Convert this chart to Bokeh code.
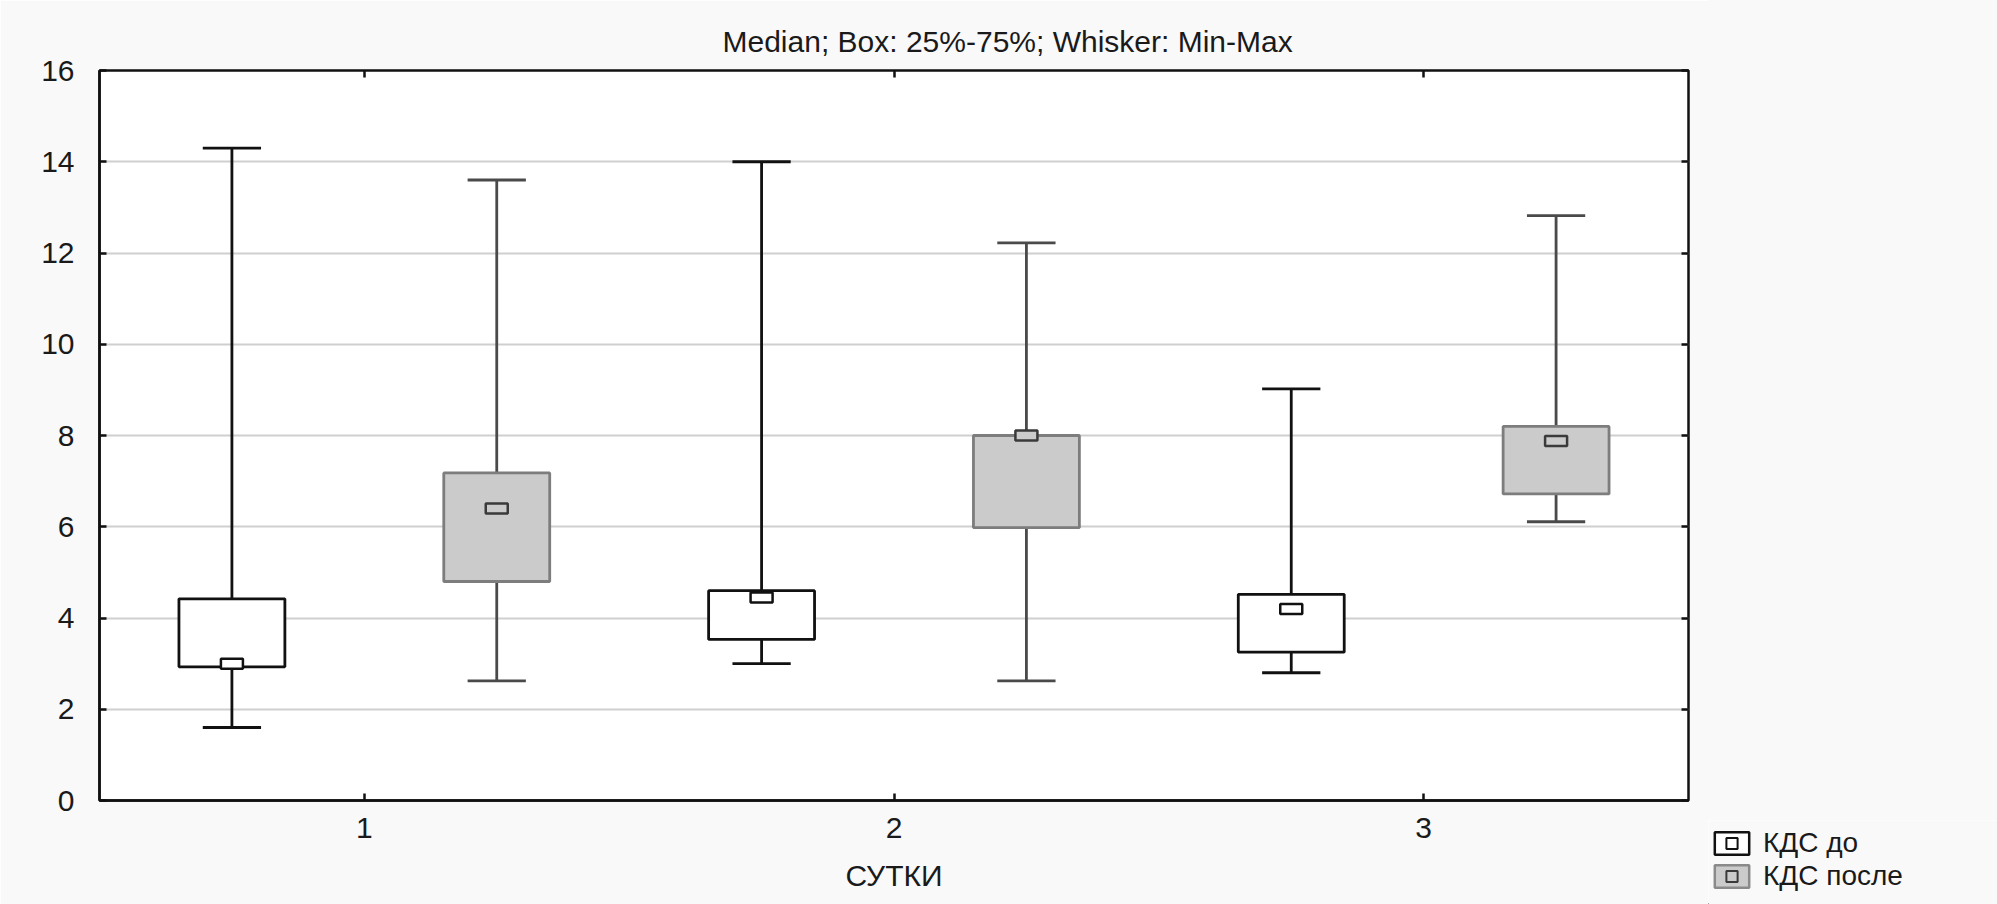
from bokeh.plotting import figure
from bokeh.models import (Range1d, FixedTicker, LinearAxis, Legend, LegendItem, Title,
                          ColumnDataSource, CustomJSTickFormatter, Spacer)
from bokeh.transform import dodge
from bokeh.layouts import row, column
from bokeh.embed import file_html
from bokeh.resources import INLINE

# ---- data ----
days = [1, 2, 3]
y_ticks = [0, 2, 4, 6, 8, 10, 12, 14, 16]

before_min = [1.6, 3.0, 2.8]
before_q1 = [2.93, 3.53, 3.25]
before_median = [3.0, 4.45, 4.2]
before_q3 = [4.42, 4.6, 4.52]
before_max = [14.3, 14.0, 9.02]

after_min = [2.62, 2.62, 6.11]
after_q1 = [4.8, 5.98, 6.72]
after_median = [6.4, 8.0, 7.88]
after_q3 = [7.18, 8.0, 8.2]
after_max = [13.6, 12.22, 12.82]

title_text = "Median; Box: 25%-75%; Whisker: Min-Max"
x_label = "СУТКИ"
legend_labels = ["КДС до", "КДС после"]

FONT = "Liberation Sans"
FS = "30px"
TXT = "#1a1a1a"
PAGE = "#f9f9f9"
LW = 2.8

src_b = ColumnDataSource(dict(day=days, lo=before_min, q1=before_q1, med=before_median,
                              q3=before_q3, hi=before_max))
src_a = ColumnDataSource(dict(day=days, lo=after_min, q1=after_q1, med=after_median,
                              q3=after_q3, hi=after_max))

p = figure(width=1708, height=904, x_range=Range1d(0.5, 3.5), y_range=Range1d(0, 16),
           title=None, output_backend="svg", toolbar_location=None,
           min_border_left=99, min_border_right=20, min_border_top=70, min_border_bottom=104,
           background_fill_color="white", border_fill_color=PAGE)

p.outline_line_color = "#111111"
p.outline_line_width = 2.5

p.xgrid.grid_line_color = None
p.ygrid.grid_line_color = "#cfcfcf"
p.ygrid.grid_line_width = 2

p.xaxis.ticker = FixedTicker(ticks=days)
p.yaxis.ticker = FixedTicker(ticks=y_ticks)

for ax in (p.xaxis[0], p.yaxis[0]):
    ax.axis_line_color = "#111111"
    ax.axis_line_width = 2.5
    ax.major_tick_in = 7
    ax.major_tick_out = 0
    ax.major_tick_line_width = 2.5
    ax.major_tick_line_color = "#111111"
    ax.minor_tick_line_color = None
    ax.major_label_text_font = FONT
    ax.major_label_text_font_size = FS
    ax.major_label_text_color = TXT

p.yaxis.major_label_standoff = 25
p.xaxis.major_label_standoff = 17
p.xaxis.axis_label = x_label
p.xaxis.axis_label_text_font = FONT
p.xaxis.axis_label_text_font_size = FS
p.xaxis.axis_label_text_font_style = "normal"
p.xaxis.axis_label_text_color = TXT
p.xaxis.axis_label_standoff = 18

blank = CustomJSTickFormatter(code="return ''")
top_ax = LinearAxis(ticker=FixedTicker(ticks=days), formatter=blank)
right_ax = LinearAxis(ticker=FixedTicker(ticks=y_ticks), formatter=blank)
for ax in (top_ax, right_ax):
    ax.axis_line_color = None
    ax.major_tick_in = 7
    ax.major_tick_out = 0
    ax.major_tick_line_width = 2.5
    ax.major_tick_line_color = "#111111"
    ax.minor_tick_line_color = None
    ax.major_label_standoff = 0
top_ax.major_label_standoff = 10
p.add_layout(top_ax, "above")
p.add_layout(right_ax, "right")

# title placed outside the (spacing) top axis
title = Title(text=title_text, align="left", offset=623, standoff=25,
              text_font=FONT, text_font_size=FS, text_font_style="normal", text_color=TXT)
p.add_layout(title, "above")

OFF = 0.25
BW = 0.2
CAP = 0.055

styles = [
    (src_b, -OFF, "white", "#111111", "#111111", "#111111"),
    (src_a, OFF, "#cbcbcb", "#7d7d7d", "#4a4a4a", "#3a3a3a"),
]
for src, off, fill, box_line, wh_line, med_line in styles:
    xc = dodge("day", off, range=p.x_range)
    p.segment(x0=xc, y0="q3", x1=xc, y1="hi", source=src, line_color=wh_line, line_width=LW)
    p.segment(x0=xc, y0="lo", x1=xc, y1="q1", source=src, line_color=wh_line, line_width=LW)
    p.segment(x0=dodge("day", off - CAP, range=p.x_range), y0="hi",
              x1=dodge("day", off + CAP, range=p.x_range), y1="hi",
              source=src, line_color=wh_line, line_width=LW)
    p.segment(x0=dodge("day", off - CAP, range=p.x_range), y0="lo",
              x1=dodge("day", off + CAP, range=p.x_range), y1="lo",
              source=src, line_color=wh_line, line_width=LW)
    p.vbar(x=xc, width=BW, bottom="q1", top="q3", source=src,
           fill_color=fill, line_color=box_line, line_width=LW)
    p.rect(x=xc, y="med", width=22, height=10, width_units="screen", height_units="screen",
           source=src, fill_color=fill, line_color=med_line, line_width=2.5)

# ---- legend panel (to the right of the plot, below its bottom edge) ----
q = figure(width=289, height=84, x_range=Range1d(0, 1), y_range=Range1d(0, 1),
           output_backend="svg", toolbar_location=None,
           min_border_left=0, min_border_right=0, min_border_top=0, min_border_bottom=0,
           background_fill_color=PAGE, border_fill_color=PAGE, outline_line_color=None)
q.axis.visible = False
q.grid.visible = False

lb_box = q.vbar(x=[-10], width=0.1, top=[-9], bottom=[-10], fill_color="white",
                line_color="#111111", line_width=2.5)
lb_med = q.scatter(x=[-10], y=[-10], marker="square", size=11, fill_color="white",
                   line_color="#111111", line_width=2)
la_box = q.vbar(x=[-10], width=0.1, top=[-9], bottom=[-10], fill_color="#cbcbcb",
                line_color="#8a8a8a", line_width=2.5)
la_med = q.scatter(x=[-10], y=[-10], marker="square", size=11, fill_color="#cbcbcb",
                   line_color="#3a3a3a", line_width=2)

legend = Legend(items=[LegendItem(label=legend_labels[0], renderers=[lb_box, lb_med]),
                       LegendItem(label=legend_labels[1], renderers=[la_box, la_med])],
                location=(2, 12), orientation="vertical",
                glyph_width=43, glyph_height=28, spacing=1, padding=0, margin=0,
                label_standoff=10, label_height=28,
                border_line_color=None, background_fill_alpha=0,
                label_text_font=FONT, label_text_font_size="28px", label_text_color=TXT)
q.add_layout(legend)

side = column(Spacer(width=289, height=820, styles={"background-color": PAGE}), q)
open("out.html", "w").write(file_html(row(p, side), INLINE))
